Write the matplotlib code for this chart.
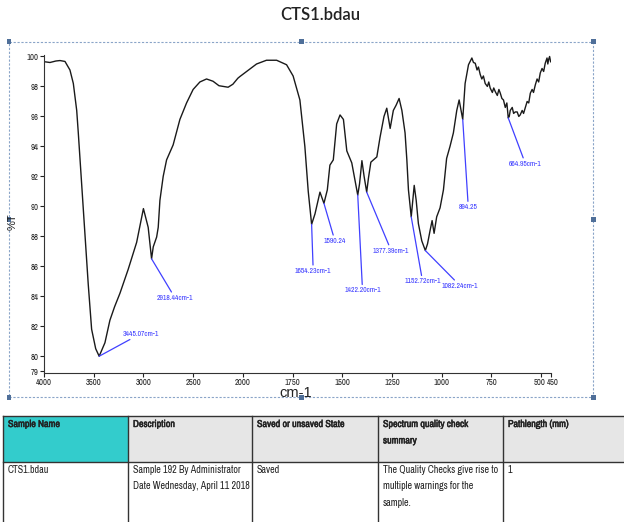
import matplotlib

matplotlib.use("Agg")

import matplotlib.pyplot as plt
import matplotlib.patheffects as pe
import numpy as np
from matplotlib import font_manager
from matplotlib.font_manager import FontProperties
from matplotlib.patches import Rectangle
from matplotlib.lines import Line2D
from matplotlib.ticker import FixedLocator, FixedFormatter
from matplotlib.transforms import ScaledTranslation

# spectrum (wavenumber cm-1, %T)
wavenumber = [
    3995, 3940, 3880, 3839, 3789, 3739, 3705, 3671, 3655, 3621, 3588, 3555,
    3521, 3480, 3445, 3387, 3337, 3290, 3236, 3153, 3068, 3000, 2952, 2918,
    2901, 2867, 2851, 2834, 2801, 2767, 2701, 2633, 2566, 2500, 2432, 2365,
    2300, 2240, 2148, 2100, 2050, 2030, 1981, 1931, 1881, 1830, 1780, 1747,
    1713, 1688, 1671, 1654, 1637, 1612, 1592, 1575, 1562, 1545, 1528, 1511,
    1494, 1477, 1452, 1435, 1422, 1413, 1401, 1390, 1377, 1368, 1356, 1343,
    1326, 1310, 1290, 1276, 1259, 1243, 1229, 1214, 1200, 1184, 1175, 1167,
    1153, 1145, 1138, 1128, 1117, 1100, 1082, 1071, 1058, 1048, 1038, 1025,
    1008, 991, 975, 958, 941, 924, 912, 894, 882, 865, 848, 840, 831, 822,
    815, 806, 798, 790, 781, 770, 763, 756, 745, 738, 730, 720, 712, 705,
    697, 689, 680, 672, 665, 660, 655, 645, 638, 630, 620, 612, 605, 595,
    588, 580, 570, 562, 554, 545, 538, 529, 520, 512, 504, 495, 487, 479,
    470, 466, 462, 457, 452,
]
transmittance = [
    99.65, 99.60, 99.70, 99.73, 99.67, 99.10, 98.20, 96.40, 94.90, 91.50, 88.20, 84.80,
    81.80, 80.50, 80.00, 80.90, 82.40, 83.30, 84.20, 85.80, 87.60, 89.85, 88.60, 86.50,
    87.30, 87.95, 88.60, 90.40, 92.00, 93.10, 94.10, 95.80, 96.90, 97.80, 98.30, 98.50,
    98.35, 98.05, 97.95, 98.15, 98.55, 98.66, 99.00, 99.50, 99.75, 99.75, 99.45, 98.70,
    97.10, 94.00, 91.00, 88.80, 89.50, 90.95, 90.20, 91.10, 92.75, 93.10, 95.50, 96.10,
    95.80, 93.70, 92.90, 91.70, 90.75, 91.50, 93.05, 92.00, 90.95, 91.90, 92.95, 93.10,
    93.30, 94.60, 96.00, 96.55, 95.20, 96.40, 96.75, 97.20, 96.40, 94.90, 93.10, 91.10,
    89.30, 90.40, 91.40, 90.40, 88.85, 87.70, 87.05, 87.50, 88.40, 89.05, 88.20, 89.30,
    89.90, 91.10, 93.20, 94.00, 94.90, 96.40, 97.10, 95.80, 98.20, 99.45, 99.90, 99.60, 99.55, 99.10,
    99.30, 98.80, 98.50, 98.70, 98.20, 98.00, 98.30, 97.90, 97.60, 97.90, 97.65, 97.40, 97.80, 97.55,
    97.20, 97.10, 96.60, 96.90, 95.90, 96.00, 96.40, 96.60, 96.20, 96.30, 96.30, 96.00, 96.10, 96.40,
    96.20, 96.55, 97.00, 96.90, 97.55, 97.80, 97.60, 98.10, 98.50, 98.30, 98.90, 99.20, 99.00, 99.55,
    99.90, 99.50, 99.80, 100.00, 99.65,
]

# peak labels: (peak wavenumber, peak %T, label, label wavenumber, label %T)
peak_wn = [3445, 2918, 1654, 1592, 1422, 1377, 1153, 1082, 894, 665]
peak_t = [80.00, 86.50, 88.80, 90.20, 90.75, 90.95, 89.30, 87.05, 95.80, 95.90]
peak_text = ["3445.07cm-1", "2918.44cm-1", "1654.23cm-1", "1590.24", "1422.20cm-1",
             "1377.39cm-1", "1152.72cm-1", "1082.24cm-1", "894.25", "664.95cm-1"]
label_wn = [3029, 2683, 1646, 1537, 1398, 1254, 1096, 907, 866, 579]
label_t = [81.5, 83.9, 85.7, 87.7, 84.4, 87.05, 85.0, 84.7, 89.95, 92.85]

x_ticks = [4000, 3500, 3000, 2500, 2000, 1750, 1500, 1250, 1000, 750, 500, 450]
y_ticks = [79, 80, 82, 84, 86, 88, 90, 92, 94, 96, 98, 100]

headers = ["Sample Name", "Description", "Saved or unsaved State",
           "Spectrum quality check\nsummary", "Pathlength (mm)"]
row = ["CTS1.bdau", "Sample 192 By Administrator\nDate Wednesday, April 11 2018",
       "Saved", "The Quality Checks give rise to\nmultiple warnings for the\nsample.", "1"]


def narrow_props(size):
    # prefer a condensed face if one is installed, else shrink a normal one
    for f in font_manager.fontManager.ttflist:
        if "Narrow" in f.name:
            return FontProperties(family=f.name, size=size)
    for f in font_manager.fontManager.ttflist:
        if f.name == "DejaVu Sans" and f.stretch == "condensed":
            return FontProperties(family="DejaVu Sans", stretch="condensed", size=size)
    return FontProperties(family="Liberation Sans", size=size * 0.8)


W, H = 624, 522


def fx(px):
    return px / W


def fy(py):
    return 1 - py / H


# below 2000 cm-1 the axis is expanded 2x
def fwd(w):
    w = np.asarray(w, dtype=float)
    return np.where(w >= 2000, w, 2 * w - 2000)


def inv(p):
    p = np.asarray(p, dtype=float)
    return np.where(p >= 2000, p, (p + 2000) / 2)


tick_fp = narrow_props(6.2)
lab_fp = narrow_props(5.5)
cell_fp = narrow_props(7.2)
bold_fx = [pe.withStroke(linewidth=0.35, foreground="#222222")]

fig = plt.figure(figsize=(W / 100, H / 100), dpi=100)
ax = fig.add_axes([fx(44), fy(372.7), fx(551) - fx(44), fy(55) - fy(372.7)])

ax.set_xscale("function", functions=(fwd, inv))
ax.plot(wavenumber, transmittance, color="#1a1a1a", linewidth=1.0)
ax.set_xlim(4000, 450)
ax.set_ylim(78.9, 100.1)

ax.xaxis.set_major_locator(FixedLocator(x_ticks))
ax.xaxis.set_major_formatter(FixedFormatter([str(t) for t in x_ticks]))
ax.xaxis.set_minor_locator(FixedLocator([]))
ax.yaxis.set_major_locator(FixedLocator(y_ticks))
ax.tick_params(length=3, width=0.8, pad=1, colors="#222222")
for lab in ax.get_xticklabels() + ax.get_yticklabels():
    lab.set_fontproperties(tick_fp)
# 500 and 450 sit next to each other: push them apart a little
xl = ax.get_xticklabels()
xl[-2].set_transform(xl[-2].get_transform() + ScaledTranslation(-0.015, 0, fig.dpi_scale_trans))
xl[-1].set_transform(xl[-1].get_transform() + ScaledTranslation(0.015, 0, fig.dpi_scale_trans))
for side in ("top", "right"):
    ax.spines[side].set_visible(False)
for side in ("left", "bottom"):
    ax.spines[side].set_color("#333333")
    ax.spines[side].set_linewidth(0.8)

for w, t, txt, lw, lt in zip(peak_wn, peak_t, peak_text, label_wn, label_t):
    ax.annotate(txt, xy=(w, t), xytext=(lw, lt), ha="center", va="center",
                fontproperties=lab_fp, color="#3a3aff",
                arrowprops=dict(arrowstyle="-", color="#4040ff", lw=0.9,
                                shrinkA=0, shrinkB=0))

fig.text(fx(13), fy(222), "%T", rotation=90, ha="center", va="center",
         fontsize=8, family="Liberation Sans", color="#222222")
fig.text(fx(296), fy(393), "cm-1", ha="center", va="center",
         fontsize=10.5, family="Liberation Sans", color="#222222")
fig.text(fx(320), fy(15), "CTS1.bdau", ha="center", va="center",
         fontsize=12, family="Lato", weight="semibold", color="#222222")

# dotted selection frame with handles
x0, y0, x1, y1 = 9, 42, 593, 397
fig.add_artist(Rectangle((fx(x0), fy(y1)), fx(x1) - fx(x0), fy(y0) - fy(y1),
                         transform=fig.transFigure, fill=False,
                         edgecolor="#8aa4c8", linewidth=0.8, linestyle=(0, (2, 1.5))))
for hx in (x0, (x0 + x1) / 2, x1):
    for hy in (y0, (y0 + y1) / 2, y1):
        if hx == (x0 + x1) / 2 and hy == (y0 + y1) / 2:
            continue
        fig.add_artist(Rectangle((fx(hx - 2.5), fy(hy + 2.5)), 5 / W, 5 / H,
                                 transform=fig.transFigure, facecolor="#4f6f99",
                                 edgecolor="none"))

# info table
col_x = [3, 128, 252, 378, 503, 640]
t_top, t_head, t_bot = 416, 462, 530
for i in range(5):
    fig.add_artist(Rectangle((fx(col_x[i]), fy(t_head)), fx(col_x[i + 1]) - fx(col_x[i]),
                             fy(t_top) - fy(t_head), transform=fig.transFigure,
                             facecolor="#33cccc" if i == 0 else "#e6e6e6",
                             edgecolor="none"))
for py in (t_top, t_head):
    fig.add_artist(Line2D([fx(col_x[0]), fx(col_x[-1])], [fy(py), fy(py)],
                          transform=fig.transFigure, color="#333333", linewidth=1.0))
for px in col_x[:-1]:
    fig.add_artist(Line2D([fx(px), fx(px)], [fy(t_top), fy(t_bot)],
                          transform=fig.transFigure, color="#333333", linewidth=1.0))
for i in range(5):
    fig.text(fx(col_x[i] + 5), fy(419), headers[i], ha="left", va="top",
             fontproperties=cell_fp, color="#222222", linespacing=1.8,
             path_effects=bold_fx)
    fig.text(fx(col_x[i] + 5), fy(465), row[i], ha="left", va="top",
             fontproperties=cell_fp, color="#222222", linespacing=1.8)

fig.savefig("out.png", dpi=100)
plt.close(fig)
